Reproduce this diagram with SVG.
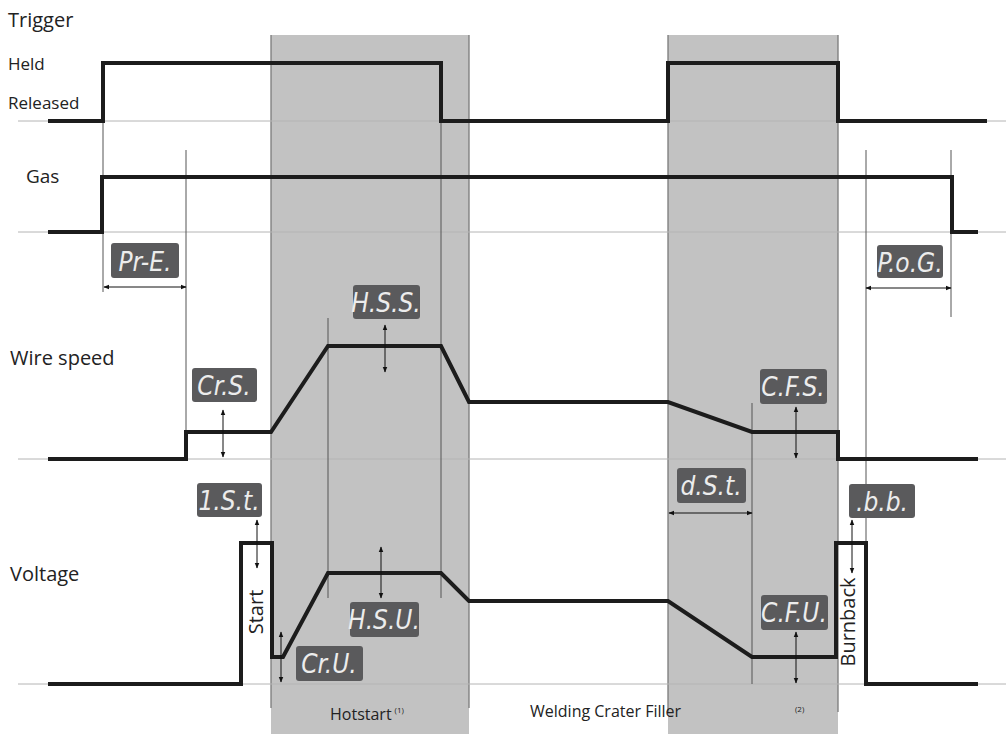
<svg xmlns="http://www.w3.org/2000/svg" width="1006" height="734" viewBox="0 0 1006 734">
<defs>
<marker id="ah" viewBox="0 0 10 10" refX="9" refY="5" markerWidth="6" markerHeight="6" orient="auto-start-reverse" markerUnits="userSpaceOnUse">
<path d="M0,1 L10,5 L0,9 z" fill="#111"/>
</marker>
<style>
.lbl{font-family:"Open Sans","Liberation Sans",sans-serif;fill:#222}
.band{fill:#c2c2c2}
.edge{stroke:#7a7a7a;stroke-width:1.3;fill:none}
.base{stroke:#b4b4b4;stroke-width:1;fill:none}
.guide{stroke:#555;stroke-width:1;fill:none}
.sig{stroke:#1c1c1c;stroke-width:4;fill:none;stroke-linejoin:miter}
.dim{stroke:#111;stroke-width:1;fill:none;marker-start:url(#ah);marker-end:url(#ah)}
.bdg rect{fill:#5a5a5c}
.bdg text{font-family:"DejaVu Sans Condensed","Liberation Sans Narrow",sans-serif;font-style:italic;fill:#ececec;font-size:26px;text-anchor:middle}
</style>
</defs>
<g id="bands">
<rect class="band" x="271" y="35" width="198" height="699"/>
<rect class="band" x="668" y="35" width="170" height="699"/>
<path class="edge" d="M271,35 V708 M469,35 V708 M668,35 V712 M838,35 V712"/>
</g>
<g id="baselines">
<path class="base" d="M18,121 H1006 M18,232 H1006 M18,459 H1006 M18,684 H1006"/>
</g>
<g id="guides">
<path class="guide" d="M103,121 V292 M186,150 V432 M328,318 V598 M441,121 V598 M752,403 V684 M866,150 V543 M951,150 V317"/>
</g>
<g id="labels">
<text class="lbl" x="8" y="27" font-size="20">Trigger</text>
<text class="lbl" x="8" y="70" font-size="17">Held</text>
<text class="lbl" x="8" y="109" font-size="17">Released</text>
<text class="lbl" x="26" y="183" font-size="19">Gas</text>
<text class="lbl" x="10" y="365" font-size="20">Wire speed</text>
<text class="lbl" x="10" y="581" font-size="20">Voltage</text>
<text class="lbl" x="330" y="720" font-size="16">Hotstart<tspan font-size="8" dy="-7" dx="3">(1)</tspan></text>
<text class="lbl" x="530" y="717" font-size="16">Welding Crater Filler</text>
<text class="lbl" x="795" y="712" font-size="8">(2)</text>
<text class="lbl" font-size="20" text-anchor="middle" transform="translate(263,612) rotate(-90)">Start</text>
<text class="lbl" font-size="20" text-anchor="middle" transform="translate(855,622) rotate(-90)">Burnback</text>
</g>
<g id="signals">
<path id="trigger" class="sig" d="M48,121 H103 V63 H441 V121 H668 V63 H838 V121 H987"/>
<path id="gas" class="sig" d="M48,232 H102 V177 H952 V232 H978"/>
<path id="wire" class="sig" d="M48,459 H186 V432 H271 L328,346 H441 L469,402 H668 L752,432 H838 V459 H978"/>
<path id="voltage" class="sig" d="M48,684 H241 V543 H272 V657 H283 L328,573 H441 L469,601 H668 L752,657 H836 V543 H866 V684 H978"/>
</g>
<g id="connectors">
<path class="dim" d="M104,287 H186"/>
<path class="dim" d="M866,288 H951"/>
<path class="dim" d="M223,410 V457"/>
<path class="dim" d="M385,325 V372"/>
<path class="dim" d="M257,520 V568"/>
<path class="dim" d="M281,632 V682"/>
<path class="dim" d="M381,547 V598"/>
<path class="dim" d="M796,407 V458"/>
<path class="dim" d="M669,513 H752"/>
<path class="dim" d="M796,632 V683"/>
<path class="dim" d="M852,520 V573"/>
</g>
<g id="badge-pre" class="bdg"><rect x="111" y="243" width="68" height="35" rx="3"/><text x="145" y="271">Pr-E.</text></g>
<g id="badge-pog" class="bdg"><rect x="877" y="245" width="66" height="33" rx="3"/><text x="910" y="272">P.o.G.</text></g>
<g id="badge-crs" class="bdg"><rect x="192" y="368" width="65" height="34" rx="3"/><text x="224" y="395">Cr.S.</text></g>
<g id="badge-hss" class="bdg"><rect x="353" y="285" width="67" height="34" rx="3"/><text x="386" y="312">H.S.S.</text></g>
<g id="badge-ist" class="bdg"><rect x="197" y="483" width="65" height="34" rx="3"/><text x="229" y="510">1.S.t.</text></g>
<g id="badge-cru" class="bdg"><rect x="296" y="646" width="67" height="35" rx="3"/><text x="329" y="673">Cr.U.</text></g>
<g id="badge-hsu" class="bdg"><rect x="350" y="602" width="69" height="35" rx="3"/><text x="384" y="629">H.S.U.</text></g>
<g id="badge-cfs" class="bdg"><rect x="760" y="369" width="67" height="35" rx="3"/><text x="793" y="396">C.F.S.</text></g>
<g id="badge-dst" class="bdg"><rect x="677" y="468" width="69" height="35" rx="3"/><text x="711" y="495">d.S.t.</text></g>
<g id="badge-cfu" class="bdg"><rect x="761" y="595" width="67" height="35" rx="3"/><text x="794" y="622">C.F.U.</text></g>
<g id="badge-bb" class="bdg"><rect x="849" y="484" width="66" height="34" rx="3"/><text x="882" y="511">.b.b.</text></g>
</svg>
